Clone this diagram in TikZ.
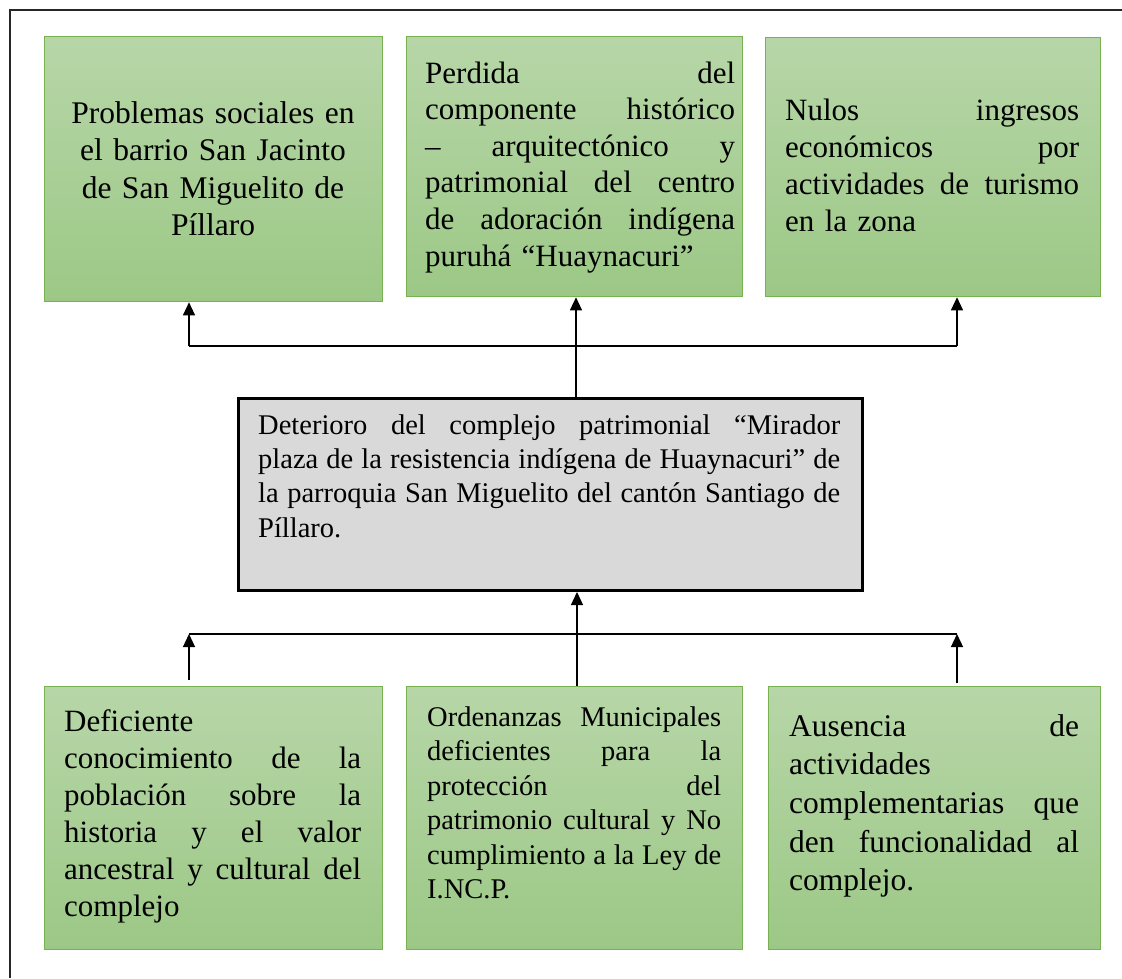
\documentclass[tikz,border=0pt]{standalone}
\usepackage{fontspec}
\setmainfont{Liberation Serif}
\usetikzlibrary{arrows.meta}
\definecolor{gtop}{RGB}{183,214,168}
\definecolor{gbot}{RGB}{156,200,134}
\definecolor{gborder}{RGB}{120,178,80}
\definecolor{cgray}{RGB}{217,217,217}
\newcommand\jl[1]{{\spaceskip=0pt\xspaceskip=0pt\relax\makebox[\hsize][s]{#1}}}
\begin{document}
\begin{tikzpicture}[x=1pt,y=-1pt,
  gbox/.style={draw=gborder, line width=1.3pt, top color=gtop, bottom color=gbot, inner sep=0pt, anchor=north west},
  cbox/.style={draw=black, line width=3pt, fill=cgray, inner sep=0pt, anchor=north west},
  txt/.style={anchor=base west, inner sep=0pt, align=left},
  ctxt/.style={anchor=base, inner sep=0pt, align=center},
  conn/.style={line width=1.3pt, black},
  arr/.style={conn, -{Triangle[width=12pt,length=13pt]}}]
\useasboundingbox (0,0) rectangle (1122,978);
% frame
\draw[line width=1.5pt, black!85] (10,978) -- (10,10) -- (1122,10);
% boxes
\node[gbox, minimum width=338pt, minimum height=265pt] (t1) at (44,36) {};
\node[gbox, minimum width=336pt, minimum height=260pt] (t2) at (406,36) {};
\node[gbox, minimum width=335pt, minimum height=259pt] (t3) at (765,37) {};
\node[cbox, minimum width=624pt, minimum height=192pt] (c) at (237,397) {};
\node[gbox, minimum width=338pt, minimum height=263pt] (b1) at (44,686) {};
\node[gbox, minimum width=336pt, minimum height=263pt] (b2) at (406,686) {};
\node[gbox, minimum width=332pt, minimum height=263pt] (b3) at (768,686) {};
% texts
\node[ctxt, text width=338pt, font=\fontsize{31.5}{37.5}\selectfont] (t1t) at (213,123)
 {Problemas sociales en\\ el barrio San Jacinto\\ de San Miguelito de\\ Píllaro};
\node[txt, text width=310pt, font=\fontsize{31}{36.6}\selectfont] (t2t) at (425,83)
 {\jl{Perdida del}\\ \jl{componente histórico}\\ \jl{– arquitectónico y}\\ \jl{patrimonial del centro}\\ \jl{de adoración indígena}\\ puruhá “Huaynacuri”};
\node[txt, text width=294pt, font=\fontsize{31}{37.3}\selectfont] (t3t) at (785,120)
 {\jl{Nulos ingresos}\\ \jl{económicos por}\\ \jl{actividades de turismo}\\ en la zona};
\node[txt, text width=582pt, font=\fontsize{28.5}{34.4}\selectfont] (ct) at (258,434)
 {\jl{Deterioro del complejo patrimonial “Mirador}\\ \jl{plaza de la resistencia indígena de Huaynacuri” de}\\ \jl{la parroquia San Miguelito del cantón Santiago de}\\ Píllaro.};
\node[txt, text width=297pt, font=\fontsize{31}{37}\selectfont] (b1t) at (64,731)
 {Deficiente\\ \jl{conocimiento de la}\\ \jl{población sobre la}\\ \jl{historia y el valor}\\ \jl{ancestral y cultural del}\\ complejo};
\node[txt, text width=294pt, font=\fontsize{28.5}{34.5}\selectfont] (b2t) at (427,726)
 {\jl{Ordenanzas Municipales}\\ \jl{deficientes para la}\\ \jl{protección del}\\ \jl{patrimonio cultural y No}\\ \jl{cumplimiento a la Ley de}\\ I.NC.P.};
\node[txt, text width=290pt, font=\fontsize{31.5}{38.7}\selectfont] (b3t) at (789,736)
 {\jl{Ausencia de}\\ actividades\\ \jl{complementarias que}\\ \jl{den funcionalidad al}\\ complejo.};
% connectors top
\coordinate (ta1) at (189,346);
\coordinate (ta2) at (576,346);
\coordinate (ta3) at (957,346);
\draw[conn] (ta1) -- (ta3);
\draw[arr] (ta1) -- (t1.south -| ta1);
\draw[arr] (ta3) -- (t3.south -| ta3);
\draw[arr] (c.north -| ta2) -- (t2.south -| ta2);
% connectors bottom
\coordinate (ba1) at (189,634);
\coordinate (ba2) at (577,634);
\coordinate (ba3) at (957,634);
\draw[conn] (ba1) -- (ba3);
\draw[arr, shorten <=6pt] (b1.north -| ba1) -- (ba1);
\draw[arr, shorten <=3pt] (b3.north -| ba3) -- (ba3);
\draw[arr] (b2.north -| ba2) -- (c.south -| ba2);
\end{tikzpicture}
\end{document}
